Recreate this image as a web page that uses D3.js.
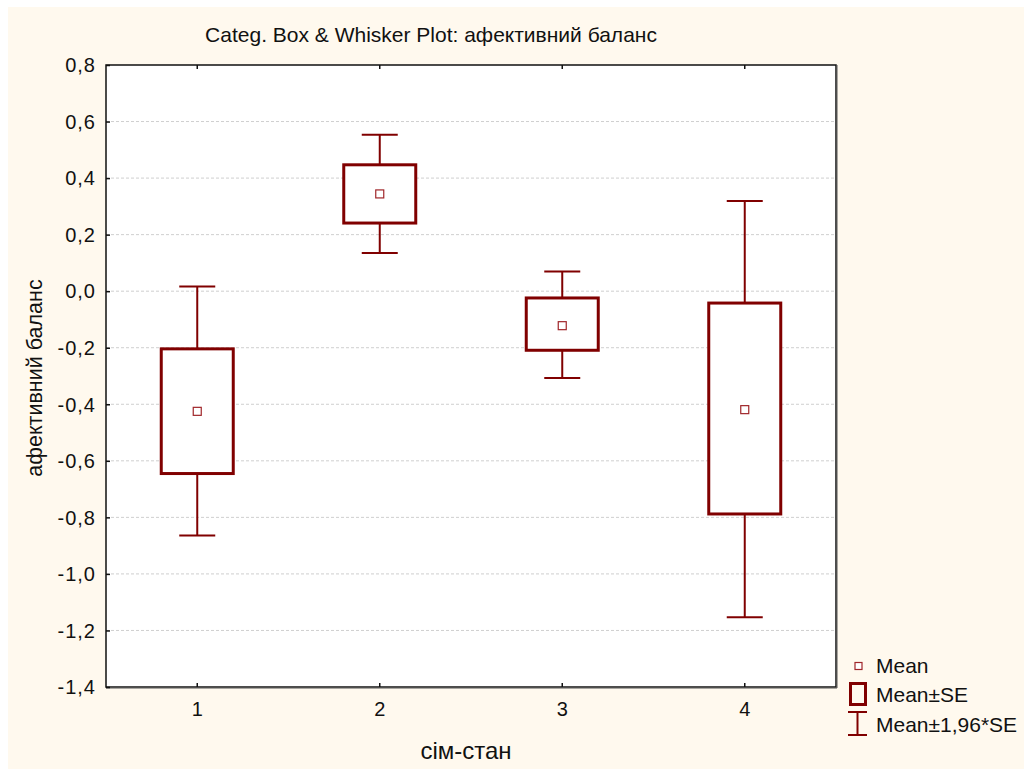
<!DOCTYPE html>
<html>
<head>
<meta charset="utf-8">
<script src="https://cdn.jsdelivr.net/npm/d3@7"></script>
<style>
  html, body { margin: 0; padding: 0; background: #ffffff; }
  svg text { font-family: "Liberation Sans", Arial, sans-serif; fill: #111; }
</style>
</head>
<body>
<svg id="chart" width="1024" height="769"></svg>
<script>
// Group labels and summary statistics of "афективний баланс" per group
const categories = ["1", "2", "3", "4"];
const means      = [-0.425, 0.344, -0.122, -0.419];
const seLow      = [-0.645, 0.241, -0.209, -0.788];   // Mean - SE
const seHigh     = [-0.204, 0.447, -0.024, -0.042];   // Mean + SE
const ciLow      = [-0.864, 0.135, -0.307, -1.153];   // Mean - 1,96*SE
const ciHigh     = [0.017, 0.553, 0.070, 0.319];      // Mean + 1,96*SE
const yTicks     = [0.8, 0.6, 0.4, 0.2, 0.0, -0.2, -0.4, -0.6, -0.8, -1.0, -1.2, -1.4];
const legendItems = ["Mean", "Mean±SE", "Mean±1,96*SE"];

const data = categories.map((c, i) => ({
  cat: c, mean: means[i], lo: seLow[i], hi: seHigh[i], wlo: ciLow[i], whi: ciHigh[i]
}));

const svg = d3.select("#chart");
const dark = "#800000";
const fmt = v => d3.format(".1f")(v).replace("−", "-").replace(".", ",");

// cream page
svg.append("rect").attr("x", 8).attr("y", 7).attr("width", 1016).attr("height", 762)
  .attr("fill", "#fff9ee");

const L = 106, R = 836, T = 65, B = 687;

const x = d3.scaleBand().domain(categories).range([L, R]);
const y = d3.scaleLinear().domain([-1.4, 0.8]).range([B, T]);

// plot area
svg.append("rect").attr("x", L).attr("y", T).attr("width", R - L).attr("height", B - T)
  .attr("fill", "#ffffff");

// grid
svg.append("g").selectAll("line")
  .data(yTicks.filter(v => v < 0.79 && v > -1.39))
  .join("line")
  .attr("x1", L).attr("x2", R)
  .attr("y1", d => y(d)).attr("y2", d => y(d))
  .attr("stroke", "#cfcfcf").attr("stroke-width", 1)
  .attr("stroke-dasharray", "3,2");

// frame with slight shadow on right/bottom
svg.append("rect").attr("x", L).attr("y", T).attr("width", R - L).attr("height", B - T)
  .attr("fill", "none").attr("stroke", "#111").attr("stroke-width", 1.5);
svg.append("line").attr("x1", R + 1).attr("x2", R + 1).attr("y1", T).attr("y2", B + 1)
  .attr("stroke", "#555").attr("stroke-width", 1);
svg.append("line").attr("x1", L).attr("x2", R + 1).attr("y1", B + 1).attr("y2", B + 1)
  .attr("stroke", "#555").attr("stroke-width", 1);

// axes (ticks pointing inward)
const yAxis = d3.axisLeft(y).tickValues(yTicks).tickFormat(fmt).tickSize(-4).tickPadding(10);
const gy = svg.append("g").attr("transform", `translate(${L},0)`).call(yAxis);
gy.select(".domain").remove();
gy.selectAll(".tick line").attr("stroke", "#111").attr("stroke-width", 1.5);
gy.selectAll(".tick text").attr("font-size", 20).attr("fill", "#111")
  .attr("letter-spacing", 1).attr("dy", "0.34em")
  .attr("font-family", "Liberation Sans, Arial, sans-serif");

const xAxis = d3.axisBottom(x).tickSize(-4).tickPadding(15);
const gx = svg.append("g").attr("transform", `translate(0,${B})`).call(xAxis);
gx.select(".domain").remove();
gx.selectAll(".tick line").attr("stroke", "#111").attr("stroke-width", 1.5);
gx.selectAll(".tick text").attr("font-size", 20).attr("fill", "#111")
  .attr("font-family", "Liberation Sans, Arial, sans-serif");

// top ticks
svg.append("g").selectAll("line").data(categories).join("line")
  .attr("x1", d => x(d) + x.bandwidth() / 2).attr("x2", d => x(d) + x.bandwidth() / 2)
  .attr("y1", T).attr("y2", T + 4).attr("stroke", "#111").attr("stroke-width", 1.5);

// box & whisker marks
const boxW = 72, capW = 36;
const g = svg.append("g");
const cx = d => x(d.cat) + x.bandwidth() / 2;

g.selectAll(".wup").data(data).join("line")
  .attr("x1", cx).attr("x2", cx).attr("y1", d => y(d.whi)).attr("y2", d => y(d.hi))
  .attr("stroke", dark).attr("stroke-width", 2);
g.selectAll(".wdn").data(data).join("line")
  .attr("x1", cx).attr("x2", cx).attr("y1", d => y(d.lo)).attr("y2", d => y(d.wlo))
  .attr("stroke", dark).attr("stroke-width", 2);
g.selectAll(".capu").data(data).join("line")
  .attr("x1", d => cx(d) - capW / 2).attr("x2", d => cx(d) + capW / 2)
  .attr("y1", d => y(d.whi)).attr("y2", d => y(d.whi))
  .attr("stroke", dark).attr("stroke-width", 2);
g.selectAll(".capd").data(data).join("line")
  .attr("x1", d => cx(d) - capW / 2).attr("x2", d => cx(d) + capW / 2)
  .attr("y1", d => y(d.wlo)).attr("y2", d => y(d.wlo))
  .attr("stroke", dark).attr("stroke-width", 2);
g.selectAll(".box").data(data).join("rect")
  .attr("x", d => cx(d) - boxW / 2).attr("width", boxW)
  .attr("y", d => y(d.hi)).attr("height", d => y(d.lo) - y(d.hi))
  .attr("fill", "#ffffff").attr("stroke", dark).attr("stroke-width", 3);
g.selectAll(".mean").data(data).join("rect")
  .attr("x", d => cx(d) - 4).attr("y", d => y(d.mean) - 4)
  .attr("width", 8).attr("height", 8)
  .attr("fill", "#ffffff").attr("stroke", "#a0262a").attr("stroke-width", 1.2);

// titles
svg.append("text").attr("x", 431).attr("y", 42).attr("text-anchor", "middle")
  .attr("font-size", 21).text("Categ. Box & Whisker Plot: афективний баланс");
svg.append("text").attr("x", 466).attr("y", 759).attr("text-anchor", "middle")
  .attr("font-size", 24).text("сім-стан");
svg.append("text").attr("transform", "translate(42,378) rotate(-90)")
  .attr("text-anchor", "middle").attr("font-size", 21.5).text("афективний баланс");

// legend
const lg = svg.append("g");
lg.append("rect").attr("x", 855).attr("y", 662.5).attr("width", 7).attr("height", 7)
  .attr("fill", "#fff").attr("stroke", "#a0262a").attr("stroke-width", 1.2);
lg.append("rect").attr("x", 850.5).attr("y", 683.5).attr("width", 15).attr("height", 21)
  .attr("fill", "none").attr("stroke", dark).attr("stroke-width", 3);
lg.append("line").attr("x1", 848).attr("x2", 867).attr("y1", 712).attr("y2", 712)
  .attr("stroke", dark).attr("stroke-width", 2);
lg.append("line").attr("x1", 848).attr("x2", 867).attr("y1", 735).attr("y2", 735)
  .attr("stroke", dark).attr("stroke-width", 2);
lg.append("line").attr("x1", 857.5).attr("x2", 857.5).attr("y1", 712).attr("y2", 735)
  .attr("stroke", dark).attr("stroke-width", 2);
lg.selectAll("text").data(legendItems).join("text")
  .attr("x", 876).attr("y", (d, i) => 673 + i * 29.3)
  .attr("font-size", 21).text(d => d);
</script>
</body>
</html>
